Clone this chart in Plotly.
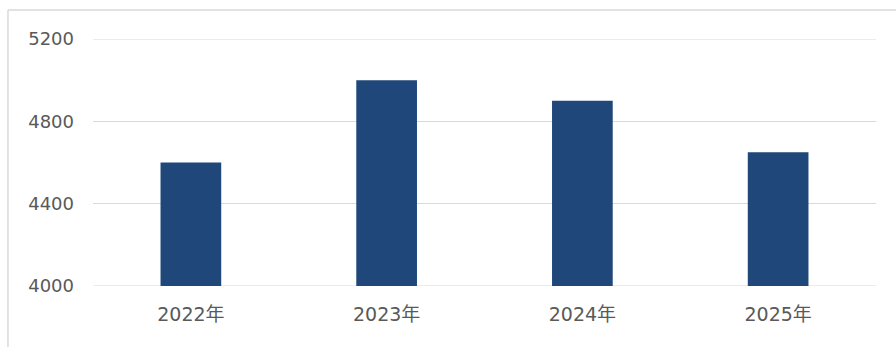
import plotly.graph_objects as go

categories = ["2022年", "2023年", "2024年", "2025年"]
values = [4600, 5000, 4900, 4650]
y_ticks = [4000, 4400, 4800, 5200]

bar_color = "#1F477A"
text_color = "#595959"
grid_color = "#D9D9D9"
font_family = "DejaVu Sans, Noto Sans CJK SC, sans-serif"

fig = go.Figure(
    go.Bar(x=categories, y=values, marker=dict(color=bar_color, line=dict(width=0)))
)

edge_grid = [
    dict(type="line", xref="paper", yref="y", x0=0, x1=1, y0=v, y1=v,
         line=dict(color=grid_color, width=1), layer="below")
    for v in (y_ticks[0], y_ticks[-1])
]

fig.update_layout(
    width=896,
    height=347,
    margin=dict(l=93, r=20, t=39, b=61),
    paper_bgcolor="white",
    plot_bgcolor="white",
    bargap=0.69,
    showlegend=False,
    font=dict(family=font_family, color=text_color, size=18),
    shapes=edge_grid + [
        dict(type="line", xref="paper", yref="paper", x0=-0.1086, x1=1.05, y0=1.117, y1=1.117,
             line=dict(color=grid_color, width=1.5)),
        dict(type="line", xref="paper", yref="paper", x0=-0.1086, x1=-0.1086, y0=1.117, y1=-0.26,
             line=dict(color=grid_color, width=1.5)),
    ],
)

fig.update_xaxes(
    showgrid=False,
    showline=False,
    ticks="",
    ticklabelstandoff=15,
    tickfont=dict(size=19, color=text_color),
)
fig.update_yaxes(
    range=[y_ticks[0], y_ticks[-1]],
    tickvals=y_ticks,
    ticktext=[str(v) for v in y_ticks],
    showgrid=True,
    gridcolor=grid_color,
    gridwidth=1,
    zeroline=False,
    showline=False,
    ticks="",
    ticklabelstandoff=18,
    tickfont=dict(size=18, color=text_color),
)

fig.write_html("out.html")
